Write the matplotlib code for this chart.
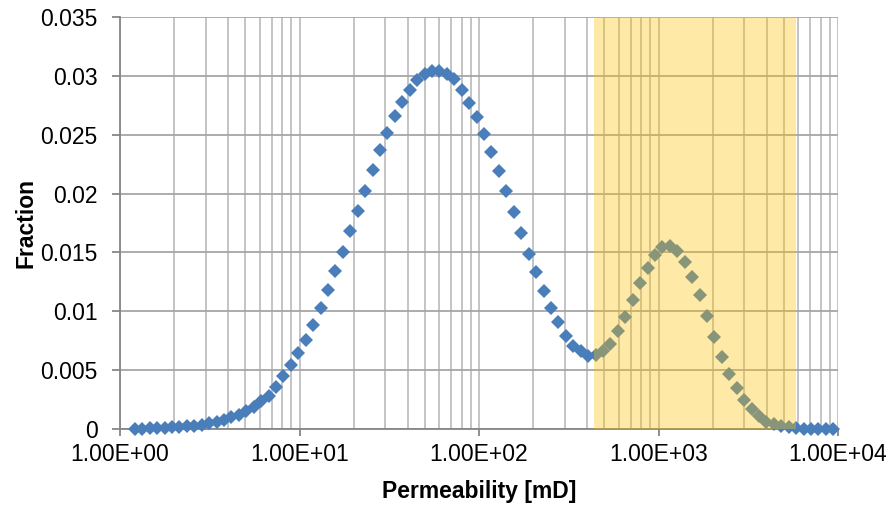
import numpy as np
import matplotlib.pyplot as plt
from matplotlib.ticker import FixedLocator

plt.rcParams['font.family'] = ['Liberation Sans', 'DejaVu Sans']

# permeability bin centres [mD]
perm = [
    1.21, 1.331, 1.4641, 1.6105, 1.7716, 1.9487, 2.1436, 2.3579, 2.5937, 2.8531,
    3.1384, 3.4523, 3.7975, 4.1772, 4.595, 5.0545, 5.5599, 6.1159, 6.7275, 7.4002,
    8.1403, 8.9543, 9.8497, 10.835, 11.918, 13.110, 14.421, 15.863, 17.449, 19.194,
    21.114, 23.225, 25.548, 28.102, 30.913, 34.004, 37.404, 41.145, 45.259, 49.785,
    54.764, 60.240, 66.264, 72.890, 80.180, 88.197, 97.017, 106.72, 117.39, 129.13,
    142.04, 156.25, 171.87, 189.06, 207.97, 228.76, 251.64, 276.80, 304.48, 334.93,
    368.42, 405.27, 445.79, 490.37, 539.41, 593.35, 652.68, 717.95, 789.75, 868.72,
    955.59, 1051.2, 1156.3, 1271.9, 1399.1, 1539.0, 1692.9, 1862.2, 2048.4, 2253.2,
    2478.6, 2726.4, 2999.1, 3299.0, 3628.9, 3991.8, 4391.0, 4830.1, 5313.0, 5844.4,
    6428.8, 7071.7, 7778.9, 8556.7, 9412.4,
]

fraction = [
    0.00002, 0.00003, 0.00005, 0.00008, 0.00011, 0.00014, 0.00018, 0.00023, 0.00029, 0.00037,
    0.00048, 0.00062, 0.00080, 0.00100, 0.00122, 0.00155, 0.00190, 0.00235, 0.00280, 0.00355,
    0.00450, 0.00545, 0.00645, 0.00760, 0.00885, 0.01030, 0.01180, 0.01340, 0.01500, 0.01680,
    0.01850, 0.02020, 0.02200, 0.02370, 0.02515, 0.02655, 0.02780, 0.02880, 0.02965, 0.03015,
    0.03040, 0.03040, 0.03020, 0.02970, 0.02880, 0.02770, 0.02650, 0.02510, 0.02355, 0.02190,
    0.02020, 0.01845, 0.01665, 0.01490, 0.01330, 0.01170, 0.01030, 0.00905, 0.00790, 0.00705,
    0.00660, 0.00620, 0.00630, 0.00660, 0.00720, 0.00830, 0.00955, 0.01100, 0.01240, 0.01370,
    0.01480, 0.01550, 0.01555, 0.01510, 0.01420, 0.01290, 0.01140, 0.00960, 0.00780, 0.00610,
    0.00470, 0.00350, 0.00250, 0.00170, 0.00110, 0.00060, 0.00040, 0.00025, 0.00014, 0.00008,
    0.00004, 0.00002, 0.00001, 0.0, 0.0,
]

# highlighted permeability window
window = [437, 5830]

x_ticks = [1, 10, 100, 1000, 10000]
x_labels = ['1.00E+00', '1.00E+01', '1.00E+02', '1.00E+03', '1.00E+04']
y_ticks = [0, 0.005, 0.01, 0.015, 0.02, 0.025, 0.03, 0.035]
y_labels = ['0', '0.005', '0.01', '0.015', '0.02', '0.025', '0.03', '0.035']

fig = plt.figure(figsize=(8.94, 5.07), dpi=100)
ax = fig.add_axes([120 / 894, 1 - 429 / 507, 718 / 894, 412 / 507])

ax.set_xscale('log')
ax.set_xlim(1, 10000)
ax.set_ylim(0, 0.035)

minor = [m * 10 ** e for e in range(4) for m in range(2, 10)]
ax.xaxis.set_major_locator(FixedLocator(x_ticks))
ax.xaxis.set_minor_locator(FixedLocator(minor))
ax.set_xticks(x_ticks)
ax.set_xticklabels(x_labels)
ax.set_yticks(y_ticks)
ax.set_yticklabels(y_labels)

ax.grid(axis='x', which='both', color='#BFBFBF', linewidth=1.3, zorder=0)
ax.grid(axis='y', which='major', color='#A6A6A6', linewidth=1.3, zorder=0)
ax.set_axisbelow(True)

ax.plot(perm, fraction, linestyle='none', marker='D', markersize=7.2,
        color='#4A7EBB', markeredgewidth=0, zorder=3, clip_on=False)

ax.axvspan(window[0], window[1], color='#FFC000', alpha=0.35, linewidth=0, zorder=4)

for side in ['top', 'right']:
    ax.spines[side].set_visible(False)
for side in ['left', 'bottom']:
    ax.spines[side].set_color('#868686')
    ax.spines[side].set_linewidth(1.3)

ax.tick_params(axis='x', which='major', direction='out', length=5, width=1.3,
               color='#868686', labelsize=16.5, pad=5)
ax.tick_params(axis='x', which='minor', length=0)
ax.tick_params(axis='y', direction='out', length=6, width=1.3,
               color='#868686', labelsize=16.5, pad=10)

ax.set_xlabel('Permeability [mD]', fontsize=16.5, fontweight='bold', labelpad=10)
ax.set_ylabel('Fraction', fontsize=16.5, fontweight='bold', labelpad=2)

fig.savefig('out.png', dpi=100)
